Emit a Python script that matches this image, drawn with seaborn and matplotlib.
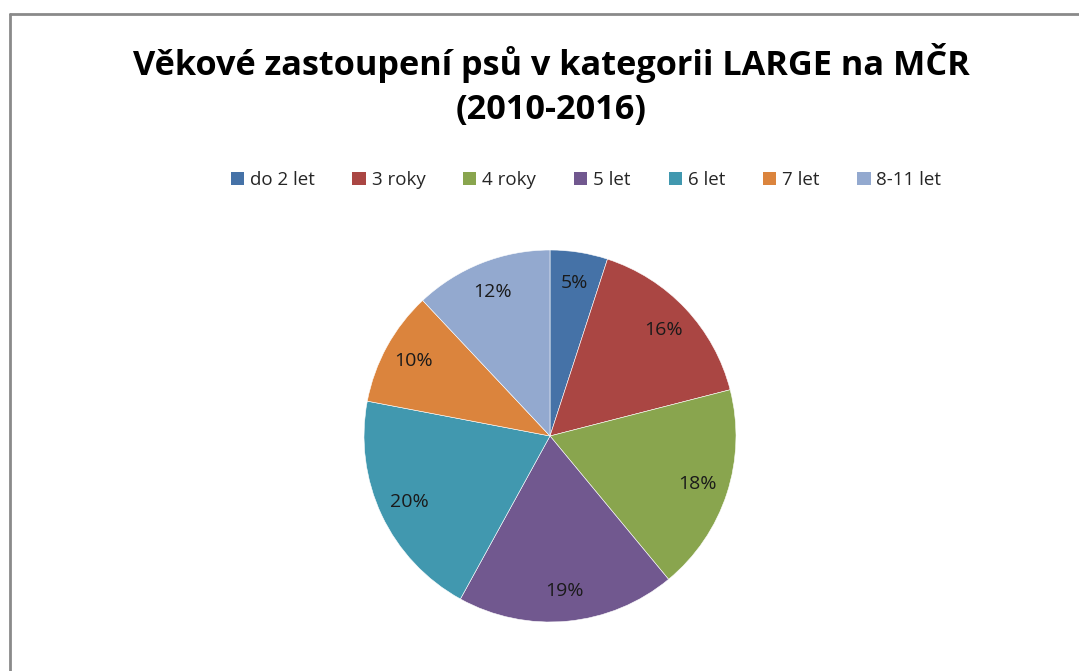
import matplotlib
matplotlib.use("Agg")
import matplotlib.pyplot as plt
import seaborn as sns
from matplotlib.lines import Line2D

categories = ["do 2 let", "3 roky", "4 roky", "5 let", "6 let", "7 let", "8-11 let"]
values = [5, 16, 18, 19, 20, 10, 12]
colors = ["#4572A7", "#AA4643", "#89A54E", "#71588F", "#4198AF", "#DB843D", "#93A9CF"]
title = "Věkové zastoupení psů v kategorii LARGE na MČR\n(2010-2016)"

sns.set_theme(style="white")
plt.rcParams["font.family"] = ["Open Sans", "DejaVu Sans"]

W, H = 1079, 671
fig = plt.figure(figsize=(W / 100, H / 100), dpi=100)
fig.patch.set_facecolor("white")

cx, cy, r = 550, 436, 186
ax = fig.add_axes([(cx - r) / W, (H - cy - r) / H, 2 * r / W, 2 * r / H])
wedges, texts, autotexts = ax.pie(
    values, colors=sns.color_palette(colors), startangle=90, counterclock=False,
    autopct="%d%%", pctdistance=0.835, radius=1,
    wedgeprops=dict(edgecolor="white", linewidth=0.4),
    textprops=dict(fontsize=14, color="#1a1a1a"))
ax.set_xlim(-1, 1)
ax.set_ylim(-1, 1)
ax.set_aspect("equal")
ax.axis("off")

fig.text(551 / W, 1 - 85 / H, title, ha="center", va="center", fontsize=24.7,
         fontweight="bold", color="black", linespacing=1.39)

handles = [plt.Rectangle((0, 0), 1, 1, facecolor=c, edgecolor="none") for c in colors]
fig.legend(handles, categories, loc="center", bbox_to_anchor=(586 / W, 1 - 180 / H),
           ncol=7, frameon=False, fontsize=13.5, handlelength=0.7, handleheight=0.7,
           handletextpad=0.32, columnspacing=2.02, borderpad=0, borderaxespad=0)

fig.add_artist(Line2D([10 / W, 1], [1 - 14 / H, 1 - 14 / H], transform=fig.transFigure,
                      color="#8a8a8a", linewidth=2))
fig.add_artist(Line2D([10 / W, 10 / W], [0, 1 - 14 / H], transform=fig.transFigure,
                      color="#8a8a8a", linewidth=2))

fig.savefig("out.png", dpi=100, facecolor="white")
